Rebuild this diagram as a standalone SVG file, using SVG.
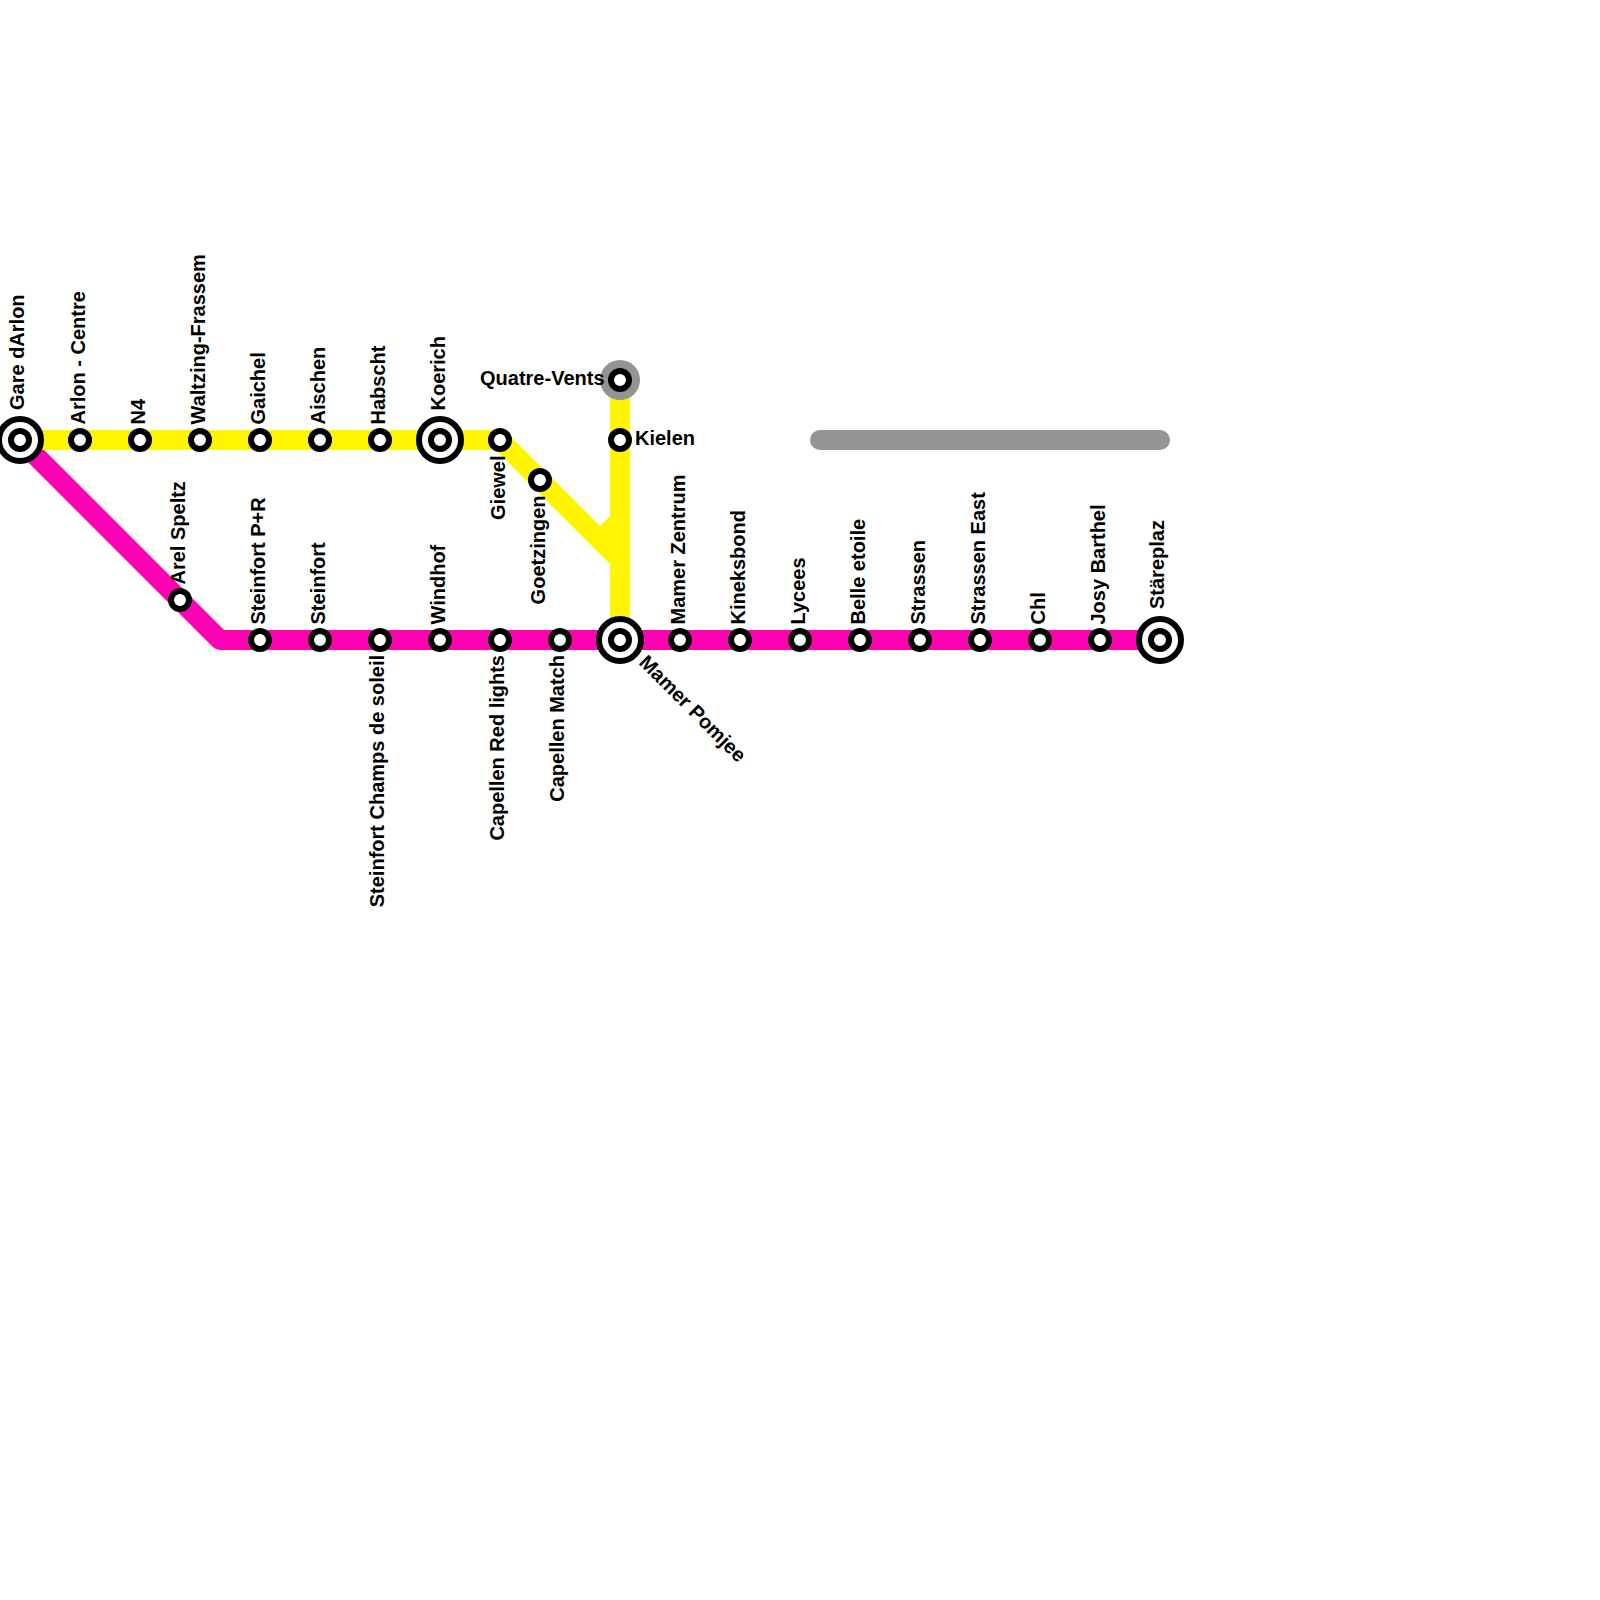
<svg xmlns="http://www.w3.org/2000/svg" width="1600" height="1600" viewBox="0 0 1600 1600">
<style>
.l{fill:none;stroke-width:20}
.s{fill:#fff;stroke:#000;stroke-width:6}
.b{fill:#fff;stroke:#000;stroke-width:6}
text{font-family:"Liberation Sans",Arial,sans-serif;font-weight:bold;font-size:20px;fill:#000}
</style>
<defs>
<g id="st"><circle class="s" r="9"/></g>
<g id="ic"><circle class="b" r="21"/><circle class="s" r="9"/></g>
</defs>
<rect width="1600" height="1600" fill="#fff"/>
<g id="connectors">
<path class="l" stroke="#ff00b4" stroke-linejoin="round" d="M20 440L220 640H1160"/>
<path class="l" stroke="#fff500" d="M20 440H500L620 560"/>
<path class="l" stroke="#fff500" d="M620 380V640"/>
<polygon fill="#fff500" points="600,526 610,516 620,516 620,570 610,564"/>
<rect x="810" y="430" width="360" height="20" rx="10" fill="#949494"/>
<circle cx="620" cy="380" r="20" fill="#949494"/>
</g>
<g id="n1"><use href="#ic" x="20" y="440"/><text transform="translate(24,410) rotate(-90)">Gare dArlon</text></g>
<g id="n2"><use href="#st" x="80" y="440"/><text transform="translate(84.500,424.500) rotate(-90)">Arlon - Centre</text></g>
<g id="n3"><use href="#st" x="140" y="440"/><text transform="translate(144.500,424.500) rotate(-90)">N4</text></g>
<g id="n4"><use href="#st" x="200" y="440"/><text transform="translate(204.500,424.500) rotate(-90)">Waltzing-Frassem</text></g>
<g id="n5"><use href="#st" x="260" y="440"/><text transform="translate(264.500,424.500) rotate(-90)">Gaichel</text></g>
<g id="n6"><use href="#st" x="320" y="440"/><text transform="translate(324.500,424.500) rotate(-90)">Aischen</text></g>
<g id="n7"><use href="#st" x="380" y="440"/><text transform="translate(384.500,424.500) rotate(-90)">Habscht</text></g>
<g id="n8"><use href="#ic" x="440" y="440"/><text transform="translate(444.500,410.500) rotate(-90)">Koerich</text></g>
<g id="n9"><use href="#st" x="500" y="440"/><text transform="translate(504.500,455.500) rotate(-90)" text-anchor="end">Giewel</text></g>
<g id="n10"><use href="#st" x="540" y="480"/><text transform="translate(544.500,495.500) rotate(-90)" text-anchor="end">Goetzingen</text></g>
<g id="n11"><use href="#st" x="620" y="380"/><text x="604.500" y="385" text-anchor="end">Quatre-Vents</text></g>
<g id="n12"><use href="#st" x="620" y="440"/><text x="635" y="445">Kielen</text></g>
<g id="n13"><use href="#st" x="180" y="600"/><text transform="translate(184.500,584.500) rotate(-90)">Arel Speltz</text></g>
<g id="n14"><use href="#st" x="260" y="640"/><text transform="translate(264.500,624.500) rotate(-90)">Steinfort P+R</text></g>
<g id="n15"><use href="#st" x="320" y="640"/><text transform="translate(324.500,624.500) rotate(-90)">Steinfort</text></g>
<g id="n16"><use href="#st" x="380" y="640"/><text transform="translate(384,655) rotate(-90)" text-anchor="end">Steinfort Champs de soleil</text></g>
<g id="n17"><use href="#st" x="440" y="640"/><text transform="translate(444.500,624.500) rotate(-90)">Windhof</text></g>
<g id="n18"><use href="#st" x="500" y="640"/><text transform="translate(504,655) rotate(-90)" text-anchor="end">Capellen Red lights</text></g>
<g id="n19"><use href="#st" x="560" y="640"/><text transform="translate(564,655) rotate(-90)" text-anchor="end">Capellen Match</text></g>
<g id="n20"><use href="#ic" x="620" y="640"/><text transform="translate(638,663.500) rotate(45)">Mamer Pomjee</text></g>
<g id="n21"><use href="#st" x="680" y="640"/><text transform="translate(684.500,624.500) rotate(-90)">Mamer Zentrum</text></g>
<g id="n22"><use href="#st" x="740" y="640"/><text transform="translate(744.500,624.500) rotate(-90)">Kineksbond</text></g>
<g id="n23"><use href="#st" x="800" y="640"/><text transform="translate(804.500,624.500) rotate(-90)">Lycees</text></g>
<g id="n24"><use href="#st" x="860" y="640"/><text transform="translate(864.500,624.500) rotate(-90)">Belle etoile</text></g>
<g id="n25"><use href="#st" x="920" y="640"/><text transform="translate(924.500,624.500) rotate(-90)">Strassen</text></g>
<g id="n26"><use href="#st" x="980" y="640"/><text transform="translate(984.500,624.500) rotate(-90)">Strassen East</text></g>
<g id="n27"><use href="#st" x="1040" y="640"/><text transform="translate(1044.500,624.500) rotate(-90)">Chl</text></g>
<g id="n28"><use href="#st" x="1100" y="640"/><text transform="translate(1104.500,624.500) rotate(-90)">Josy Barthel</text></g>
<g id="n29"><use href="#ic" x="1160" y="640"/><text transform="translate(1164,609) rotate(-90)">Stäreplaz</text></g>
</svg>
